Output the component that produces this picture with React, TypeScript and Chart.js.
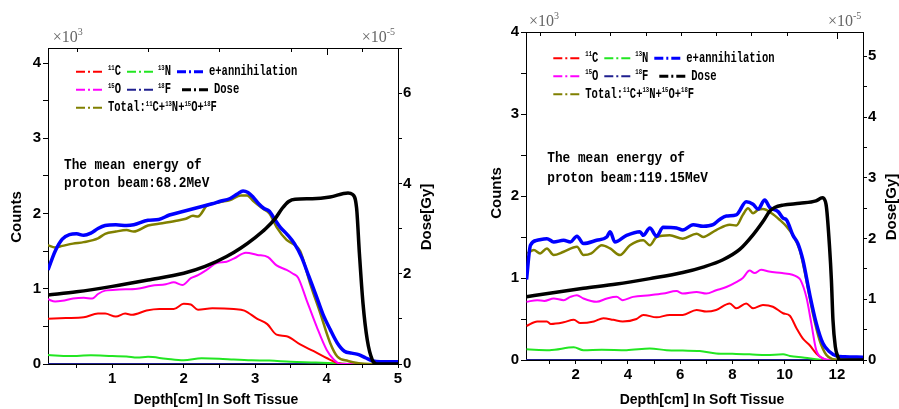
import React, { useEffect, useRef } from 'react';
import { Chart, registerables } from 'chart.js';
Chart.register(...registerables);

type Pt = [number, number];

// ---------- Left panel (68.2 MeV) ----------
const L_C11: Pt[] = [[0.1,0.6],[0.35,0.61],[0.6,0.62],[0.8,0.67],[0.9,0.67],[1.05,0.63],[1.18,0.67],[1.28,0.655],[1.48,0.71],[1.66,0.73],[1.86,0.73],[2.0,0.8],[2.1,0.79],[2.2,0.72],[2.4,0.74],[2.7,0.73],[2.85,0.71],[3.03,0.6],[3.17,0.53],[3.3,0.39],[3.44,0.37],[3.63,0.26],[3.82,0.17],[4.0,0.08],[4.15,0.015],[4.3,0],[5,0]];
const L_N13: Pt[] = [[0.1,0.12],[0.4,0.105],[0.7,0.115],[1.0,0.105],[1.2,0.1],[1.35,0.085],[1.5,0.095],[1.75,0.07],[2.0,0.05],[2.25,0.075],[2.5,0.07],[2.7,0.06],[2.95,0.05],[3.2,0.045],[3.5,0.03],[3.85,0.02],[4.1,0.01],[4.3,0],[5,0]];
const L_O15: Pt[] = [[0.1,0.86],[0.2,0.83],[0.3,0.84],[0.45,0.87],[0.6,0.88],[0.72,0.87],[0.8,0.93],[0.9,0.975],[1.1,0.99],[1.35,1.0],[1.55,1.04],[1.75,1.06],[1.86,1.085],[1.98,1.05],[2.1,1.14],[2.2,1.18],[2.32,1.25],[2.46,1.34],[2.6,1.36],[2.7,1.4],[2.87,1.48],[3.03,1.45],[3.18,1.42],[3.3,1.31],[3.44,1.25],[3.53,1.2],[3.6,1.15],[3.72,0.85],[3.86,0.5],[4.0,0.19],[4.1,0.06],[4.2,0],[5,0]];
const L_F18: Pt[] = [[0.1,0],[5,0]];
const L_EANN: Pt[] = [[0.1,1.25],[0.2,1.5],[0.3,1.66],[0.4,1.72],[0.5,1.73],[0.6,1.71],[0.7,1.74],[0.8,1.8],[0.9,1.84],[1.05,1.85],[1.2,1.84],[1.3,1.85],[1.5,1.91],[1.65,1.92],[1.8,1.98],[2.0,2.03],[2.2,2.08],[2.4,2.13],[2.5,2.16],[2.65,2.2],[2.75,2.26],[2.83,2.3],[2.9,2.28],[2.97,2.22],[3.05,2.13],[3.12,2.07],[3.2,2.03],[3.27,1.93],[3.35,1.82],[3.45,1.72],[3.55,1.6],[3.65,1.42],[3.75,1.17],[3.85,0.92],[3.95,0.66],[4.05,0.46],[4.15,0.28],[4.25,0.17],[4.35,0.145],[4.45,0.125],[4.55,0.08],[4.65,0.04],[4.75,0.03],[5.0,0.03]];
const L_TOTAL: Pt[] = [[0.1,1.58],[0.2,1.55],[0.3,1.57],[0.45,1.6],[0.6,1.62],[0.8,1.67],[0.9,1.73],[1.05,1.76],[1.2,1.78],[1.3,1.76],[1.5,1.84],[1.7,1.87],[1.88,1.9],[2.03,1.93],[2.13,1.97],[2.2,1.96],[2.32,2.1],[2.5,2.15],[2.65,2.18],[2.8,2.24],[2.89,2.24],[2.97,2.17],[3.1,2.07],[3.2,2.0],[3.3,1.82],[3.44,1.65],[3.54,1.59],[3.63,1.5],[3.77,1.07],[3.91,0.68],[4.05,0.28],[4.15,0.1],[4.3,0.04],[4.45,0.01],[4.6,0],[5,0]];
const L_DOSE: Pt[] = [[0.1,1.53],[0.5,1.6],[1.0,1.72],[1.5,1.86],[2.0,2.01],[2.3,2.16],[2.6,2.38],[2.8,2.57],[3.0,2.8],[3.15,3.0],[3.28,3.22],[3.38,3.45],[3.47,3.6],[3.56,3.65],[3.8,3.66],[4.05,3.7],[4.3,3.79],[4.36,3.76],[4.42,3.46],[4.46,2.44],[4.51,1.34],[4.57,0.53],[4.64,0.09],[4.7,0],[5,0]];
const L_XTICKS = [0.5,1,1.5,2,2.5,3,3.5,4,4.5,5];
const L_XLABELS = [1,2,3,4,5];
const L_YTICKS = [0,0.5,1,1.5,2,2.5,3,3.5,4];
const L_YLABELS = [0,1,2,3,4];
const L_Y2TICKS = [0,1,2,3,4,5,6,7];
const L_Y2LABELS = [0,2,4,6];
const L_TOP_MINOR = [0.5,1.5,2.5,3.5,4.5];
const L_TOP_MAJOR = [4];

// ---------- Right panel (119.15 MeV) ----------
const R_C11: Pt[] = [[0.12,0.415],[0.53,0.47],[0.9,0.47],[1.05,0.44],[1.54,0.46],[1.93,0.49],[2.18,0.45],[2.7,0.47],[3.06,0.51],[3.44,0.49],[3.8,0.47],[4.33,0.5],[4.59,0.55],[5.1,0.52],[5.6,0.55],[6.1,0.55],[6.63,0.61],[7.0,0.59],[7.38,0.61],[7.9,0.69],[8.15,0.63],[8.53,0.69],[8.79,0.63],[9.17,0.67],[9.55,0.65],[9.94,0.57],[10.2,0.54],[10.45,0.39],[10.7,0.26],[10.96,0.18],[11.21,0.08],[11.45,0.02],[11.7,0],[13,0]];
const R_N13: Pt[] = [[0.12,0.13],[1.0,0.12],[1.93,0.155],[2.3,0.12],[3.0,0.125],[3.95,0.12],[4.84,0.14],[5.48,0.12],[6.1,0.115],[6.75,0.11],[7.38,0.08],[8.0,0.075],[8.66,0.07],[9.3,0.06],[9.94,0.07],[10.2,0.05],[10.7,0.03],[11.2,0.01],[11.5,0],[13,0]];
const R_O15: Pt[] = [[0.12,0.71],[0.53,0.73],[0.8,0.72],[1.16,0.75],[1.54,0.73],[1.8,0.77],[2.05,0.79],[2.3,0.75],[2.8,0.71],[3.2,0.75],[3.57,0.77],[3.8,0.73],[4.2,0.77],[4.84,0.79],[5.35,0.81],[5.86,0.84],[6.1,0.81],[6.63,0.83],[7.0,0.81],[7.38,0.85],[7.77,0.89],[8.15,0.95],[8.4,1.0],[8.66,1.09],[8.85,1.06],[9.1,1.1],[9.4,1.08],[9.9,1.06],[10.3,1.04],[10.5,1.01],[10.6,0.98],[10.83,0.77],[11.02,0.45],[11.21,0.12],[11.47,0.02],[11.7,0],[13,0]];
const R_F18: Pt[] = [[0.1,0],[13,0]];
const R_EANN: Pt[] = [[0.12,0.98],[0.27,1.4],[0.53,1.46],[0.9,1.48],[1.16,1.44],[1.54,1.46],[1.8,1.44],[2.05,1.51],[2.3,1.42],[2.8,1.46],[3.19,1.5],[3.32,1.565],[3.5,1.44],[3.95,1.52],[4.46,1.565],[4.59,1.52],[4.84,1.61],[5.1,1.51],[5.35,1.62],[5.86,1.61],[6.1,1.585],[6.5,1.65],[6.88,1.63],[7.26,1.65],[7.5,1.71],[7.77,1.755],[8.15,1.77],[8.53,1.93],[8.79,1.9],[8.98,1.84],[9.24,1.95],[9.43,1.86],[9.75,1.81],[9.94,1.73],[10.07,1.71],[10.32,1.52],[10.51,1.42],[10.7,1.22],[10.96,0.8],[11.21,0.45],[11.47,0.2],[11.72,0.1],[11.98,0.05],[12.3,0.04],[13,0.035]];
const R_TOTAL: Pt[] = [[0.15,1.3],[0.4,1.34],[0.64,1.3],[0.9,1.36],[1.16,1.28],[1.54,1.32],[2.05,1.38],[2.3,1.28],[2.6,1.3],[3.0,1.4],[3.32,1.36],[3.7,1.28],[4.08,1.4],[4.59,1.46],[4.84,1.4],[5.1,1.5],[5.6,1.52],[6.1,1.48],[6.63,1.54],[6.88,1.5],[7.38,1.585],[7.9,1.65],[8.15,1.64],[8.4,1.77],[8.6,1.85],[8.79,1.79],[8.98,1.83],[9.17,1.84],[9.5,1.79],[9.81,1.71],[10.07,1.63],[10.32,1.52],[10.58,1.34],[10.83,0.98],[11.08,0.57],[11.34,0.24],[11.6,0.06],[11.85,0.01],[12.2,0],[13,0]];
const R_DOSE: Pt[] = [[0.12,1.04],[1.0,1.1],[2.3,1.18],[3.57,1.25],[4.84,1.34],[6.1,1.44],[6.88,1.53],[7.64,1.65],[8.28,1.82],[8.79,2.06],[9.17,2.28],[9.43,2.45],[9.62,2.51],[9.94,2.55],[10.58,2.58],[11.2,2.62],[11.44,2.67],[11.5,2.66],[11.6,2.52],[11.72,1.86],[11.79,1.32],[11.85,0.66],[11.94,0.22],[12.04,0.05],[12.1,0],[13,0]];
const R_XTICKS = [1,2,3,4,5,6,7,8,9,10,11,12,13];
const R_XLABELS = [2,4,6,8,10,12];
const R_YTICKS = [0,0.5,1,1.5,2,2.5,3,3.5,4];
const R_YLABELS = [0,1,2,3,4];
const R_Y2TICKS = [0,0.5,1,1.5,2,2.5,3,3.5,4,4.5,5];
const R_Y2LABELS = [0,1,2,3,4,5];
const R_TOP_MINOR = [0.63,1.98,3.33,4.68,6.03,7.38,8.73,10.08];
const R_TOP_MAJOR = [12];

const COLORS = { c11: '#ff0000', n13: '#22e622', o15: '#ff00ff', f18: '#1f1f8f', eann: '#0000ff', dose: '#000000', total: '#808000' };

type Seg = [string, boolean];
const LEGEND_ROWS: { color: string; w: number; dx: number; tx: number; segs: Seg[] }[][] = [
  [
    { color: COLORS.c11, w: 2, dx: 0, tx: 32, segs: [['11', true], ['C', false]] },
    { color: COLORS.n13, w: 2, dx: 51, tx: 82, segs: [['13', true], ['N', false]] },
    { color: COLORS.eann, w: 3, dx: 101, tx: 133, segs: [['e+annihilation', false]] },
  ],
  [
    { color: COLORS.o15, w: 2, dx: 0, tx: 32, segs: [['15', true], ['O', false]] },
    { color: COLORS.f18, w: 2, dx: 51, tx: 82, segs: [['18', true], ['F', false]] },
    { color: COLORS.dose, w: 3, dx: 106, tx: 138, segs: [['Dose', false]] },
  ],
  [
    { color: COLORS.total, w: 2, dx: 0, tx: 32, segs: [['Total:', false], ['11', true], ['C+', false], ['13', true], ['N+', false], ['15', true], ['O+', false], ['18', true], ['F', false]] },
  ],
];

interface Panel {
  left: number; width: number; padTop: number; yW: number; y2W: number; xH: number;
  xMin: number; xMax: number; yMax: number; y2Max: number;
  xTicks: number[]; xLabels: number[]; yTicks: number[]; yLabels: number[]; y2Ticks: number[]; y2Labels: number[];
  topMinor: number[]; topMajor: number[];
  c11: Pt[]; n13: Pt[]; o15: Pt[]; f18: Pt[]; eann: Pt[]; total: Pt[]; dose: Pt[];
  energy: string;
  counts: [number, number]; doseT: [number, number]; depth: [number, number];
  x10L: [number, number]; x10R: [number, number]; annot: [number, number, number]; legend: [number, number];
}

const PANELS: Panel[] = [
  {
    left: 0, width: 450, padTop: 48, yW: 48, y2W: 52, xH: 45,
    xMin: 0.1, xMax: 5, yMax: 4.2, y2Max: 7,
    xTicks: L_XTICKS, xLabels: L_XLABELS, yTicks: L_YTICKS, yLabels: L_YLABELS, y2Ticks: L_Y2TICKS, y2Labels: L_Y2LABELS,
    topMinor: L_TOP_MINOR, topMajor: L_TOP_MAJOR,
    c11: L_C11, n13: L_N13, o15: L_O15, f18: L_F18, eann: L_EANN, total: L_TOTAL, dose: L_DOSE,
    energy: 'proton beam:68.2MeV',
    counts: [17, 217], doseT: [427, 217], depth: [216, 400],
    x10L: [52.7, 37.5], x10R: [361.7, 37.5], annot: [64, 165, 183.3], legend: [76, 71.7],
  },
  {
    left: 450, width: 449, padTop: 32, yW: 76, y2W: 36, xH: 49,
    xMin: 0.1, xMax: 13, yMax: 4, y2Max: 5.4,
    xTicks: R_XTICKS, xLabels: R_XLABELS, yTicks: R_YTICKS, yLabels: R_YLABELS, y2Ticks: R_Y2TICKS, y2Labels: R_Y2LABELS,
    topMinor: R_TOP_MINOR, topMajor: R_TOP_MAJOR,
    c11: R_C11, n13: R_N13, o15: R_O15, f18: R_F18, eann: R_EANN, total: R_TOTAL, dose: R_DOSE,
    energy: 'proton beam:119.15MeV',
    counts: [47, 193], doseT: [442, 207], depth: [252, 400],
    x10L: [79, 21.3], x10R: [378, 21.3], annot: [97.3, 158.3, 178.3], legend: [103.3, 58.3],
  },
];

const MONO = '"Liberation Mono", "DejaVu Sans Mono", monospace';
const SANS = '"Liberation Sans", Arial, sans-serif';
const SERIF = '"Liberation Serif", "Times New Roman", serif';

function drawRich(ctx: CanvasRenderingContext2D, segs: Seg[], x: number, y: number, size: number, family: string, weight: string, sx: number, color: string, supSize: number, supRise: number) {
  ctx.save();
  ctx.translate(x, y);
  ctx.scale(sx, 1);
  ctx.textBaseline = 'middle';
  ctx.textAlign = 'left';
  ctx.fillStyle = color;
  let cx = 0;
  for (const [t, sup] of segs) {
    ctx.font = `${weight} ${sup ? supSize : size}px ${family}`;
    ctx.fillText(t, cx, sup ? -supRise : 0);
    cx += ctx.measureText(t).width;
  }
  ctx.restore();
}

function makeDecor(p: Panel) {
  return {
    id: 'decor',
    afterDraw(chart: any) {
      const { ctx, chartArea: a, scales } = chart;
      ctx.save();
      ctx.strokeStyle = '#000';
      ctx.lineWidth = 1;
      ctx.setLineDash([]);
      ctx.beginPath();
      ctx.moveTo(a.left, a.top + 0.5);
      ctx.lineTo(a.right, a.top + 0.5);
      ctx.stroke();
      for (const v of p.topMinor) {
        const x = Math.round(scales.x.getPixelForValue(v)) + 0.5;
        ctx.beginPath(); ctx.moveTo(x, a.top); ctx.lineTo(x, a.top + 4); ctx.stroke();
      }
      for (const v of p.topMajor) {
        const x = Math.round(scales.x.getPixelForValue(v)) + 0.5;
        ctx.beginPath(); ctx.moveTo(x, a.top); ctx.lineTo(x, a.top + 7); ctx.stroke();
      }

      // axis titles
      ctx.fillStyle = '#000';
      ctx.textAlign = 'center';
      ctx.textBaseline = 'middle';
      ctx.font = `bold 15px ${SANS}`;
      for (const [t, pos] of [['Counts', p.counts], ['Dose[Gy]', p.doseT]] as [string, [number, number]][]) {
        ctx.save();
        ctx.translate(pos[0], pos[1]);
        ctx.rotate(-Math.PI / 2);
        ctx.fillText(t, 0, 0);
        ctx.restore();
      }
      ctx.font = `bold 14px ${SANS}`;
      ctx.fillText('Depth[cm] In Soft Tissue', p.depth[0], p.depth[1]);

      // multipliers
      drawRich(ctx, [['×10', false], ['3', true]], p.x10L[0], p.x10L[1], 16, SERIF, 'normal', 1, '#666', 10, 5);
      drawRich(ctx, [['×10', false], ['-5', true]], p.x10R[0], p.x10R[1], 16, SERIF, 'normal', 1, '#666', 10, 5);

      // annotation
      drawRich(ctx, [['The mean energy of', false]], p.annot[0], p.annot[1], 15, MONO, 'bold', 0.85, '#000', 9, 4);
      drawRich(ctx, [[p.energy, false]], p.annot[0], p.annot[2], 15, MONO, 'bold', 0.85, '#000', 9, 4);

      // legend
      const [lx, ly] = p.legend;
      LEGEND_ROWS.forEach((row, ri) => {
        const y = ly + ri * 18;
        for (const it of row) {
          ctx.save();
          ctx.strokeStyle = it.color;
          ctx.lineWidth = it.w;
          ctx.setLineDash([9, 3, 2, 3]);
          ctx.beginPath();
          ctx.moveTo(lx + it.dx, y);
          ctx.lineTo(lx + it.dx + 27, y);
          ctx.stroke();
          ctx.restore();
          drawRich(ctx, it.segs, lx + it.tx, y, 15, MONO, 'bold', 0.7, '#000', 8, 4);
        }
      });
      ctx.restore();
    },
  };
}

function line(label: string, pts: Pt[], color: string, width: number, axis = 'y') {
  return {
    label,
    data: pts.map(([x, y]) => ({ x, y })),
    borderColor: color,
    backgroundColor: color,
    borderWidth: width,
    pointRadius: 0,
    fill: false,
    cubicInterpolationMode: 'monotone' as const,
    yAxisID: axis,
  };
}

const TICK_FONT = { family: SANS, size: 15, weight: 'bold' as const };

function axis(pos: string, min: number, max: number, ticks: number[], labels: number[], size: number, tickLen: number, pad: number, extra: any = {}) {
  const horizontal = pos === 'bottom';
  return {
    type: 'linear' as const,
    position: pos,
    min, max,
    afterBuildTicks: (s: any) => { s.ticks = ticks.map((v) => ({ value: v })); },
    afterFit: (s: any) => { if (horizontal) s.height = size; else s.width = size; },
    ticks: {
      autoSkip: false, maxRotation: 0, minRotation: 0,
      callback: (v: any) => (labels.includes(Number(v)) ? String(v) : ''),
      font: TICK_FONT, color: '#000', padding: pad,
    },
    grid: { display: true, drawOnChartArea: false, drawTicks: true, tickLength: tickLen, color: '#000', lineWidth: 1 },
    border: { display: true, color: '#000', width: 1 },
    ...extra,
  };
}

function config(p: Panel): any {
  return {
    type: 'line',
    data: {
      datasets: [
        line('Dose', p.dose, COLORS.dose, 3.5, 'y2'),
        line('e+annihilation', p.eann, COLORS.eann, 3.5),
        line('Total', p.total, COLORS.total, 2.5),
        line('15O', p.o15, COLORS.o15, 2),
        line('11C', p.c11, COLORS.c11, 2),
        line('13N', p.n13, COLORS.n13, 2),
        line('18F', p.f18, COLORS.f18, 2),
      ],
    },
    options: {
      responsive: false,
      animation: false,
      devicePixelRatio: 1,
      layout: { padding: { top: p.padTop, left: 0, right: 0, bottom: 0 } },
      plugins: { legend: { display: false }, tooltip: { enabled: false }, title: { display: false } },
      scales: {
        x: axis('bottom', p.xMin, p.xMax, p.xTicks, p.xLabels, p.xH, 4, 2),
        y: axis('left', 0, p.yMax, p.yTicks, p.yLabels, p.yW, 5, 2),
        y2: axis('right', 0, p.y2Max, p.y2Ticks, p.y2Labels, p.y2W, 4, 1),
      },
    },
    plugins: [makeDecor(p)],
  };
}

export default function App() {
  const leftRef = useRef<HTMLCanvasElement>(null);
  const rightRef = useRef<HTMLCanvasElement>(null);
  useEffect(() => {
    const charts: Chart[] = [];
    [leftRef, rightRef].forEach((r, i) => {
      if (r.current) charts.push(new Chart(r.current, config(PANELS[i])));
    });
    return () => charts.forEach((c) => c.destroy());
  }, []);
  return (
    <div style={{ position: 'fixed', left: 0, top: 0, width: 899, height: 409, background: '#fff', overflow: 'hidden' }}>
      <canvas ref={leftRef} width={PANELS[0].width} height={409} style={{ position: 'absolute', left: PANELS[0].left, top: 0, width: PANELS[0].width, height: 409 }} />
      <canvas ref={rightRef} width={PANELS[1].width} height={409} style={{ position: 'absolute', left: PANELS[1].left, top: 0, width: PANELS[1].width, height: 409 }} />
    </div>
  );
}
